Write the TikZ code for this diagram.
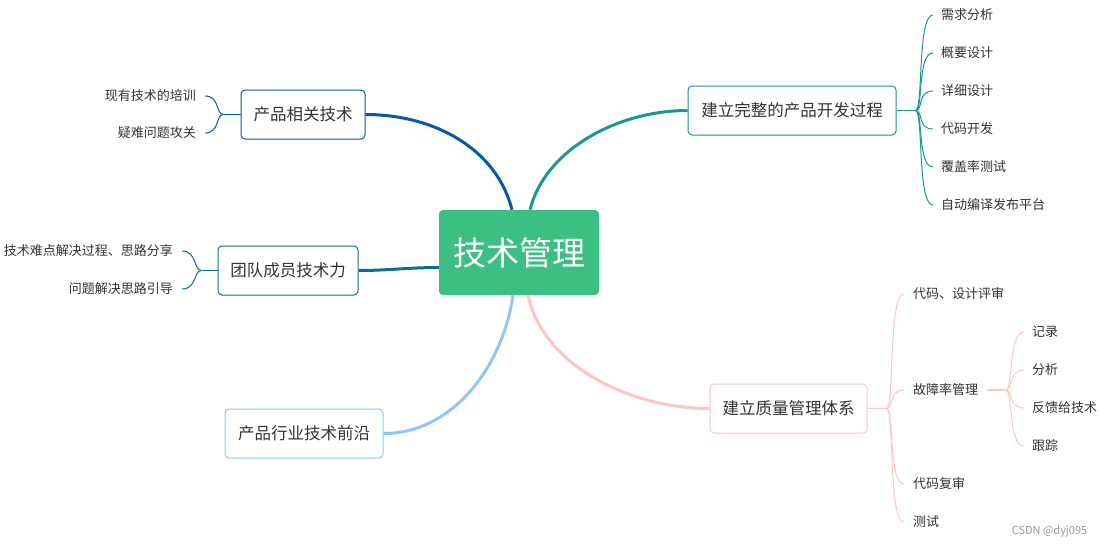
\documentclass[tikz,border=0pt]{standalone}
\usepackage{fontspec}
\setmainfont{Noto Sans CJK SC}
\usetikzlibrary{calc}
\definecolor{prodc}{HTML}{0A57A5}
\definecolor{teamc}{HTML}{0E6F8D}
\definecolor{frontc}{HTML}{8EC7F8}
\definecolor{devc}{HTML}{1A9699}
\definecolor{qualc}{HTML}{FFC5C5}
\definecolor{centc}{HTML}{3BBF82}
\definecolor{txt}{HTML}{333333}
\tikzset{
  topic/.style={draw=#1, fill=white, line width=1pt, rounded corners=4pt, text=txt,
    font=\fontsize{16.5}{19}\selectfont, minimum height=49pt, inner xsep=10pt, inner ysep=0pt},
  leafr/.style={anchor=west, text=txt, font=\fontsize{13}{15}\selectfont, inner xsep=8pt, inner ysep=2pt},
  leafl/.style={anchor=east, text=txt, font=\fontsize{13}{15}\selectfont, inner xsep=9pt, inner ysep=2pt},
  mainline/.style={draw=#1, line width=3pt},
  subline/.style={draw=#1, line width=1pt},
}
\begin{document}
\begin{tikzpicture}[x=1pt,y=-1pt]
\useasboundingbox[fill=white] (0,0) rectangle (1104,547);

% topics
\node[topic=prodc, minimum width=124pt] (prod) at (303,114.5) {产品相关技术};
\node[topic=teamc, minimum width=140pt] (team) at (288,270.5) {团队成员技术力};
\node[topic=frontc, minimum width=158pt] (front) at (304,433.5) {产品行业技术前沿};
\node[topic=devc, minimum width=208pt] (dev) at (792,110.5) {建立完整的产品开发过程};
\node[topic=qualc, minimum width=157pt] (qual) at (788.5,408.5) {建立质量管理体系};

% main branches (behind center)
\node[minimum width=160pt, minimum height=85pt, inner sep=0pt] (cgeo) at (519,252.5) {};
\draw[mainline=prodc] ($(cgeo.north)+(-7,0)$) .. controls +(-15,-60) and +(70,0) .. (prod.east);
\draw[mainline=teamc] ($(cgeo.west)+(0,15)$) .. controls +(-30,0) and +(30,0) .. (team.east);
\draw[mainline=frontc] ($(cgeo.south)+(-6,0)$) .. controls +(-10,70) and +(70,0) .. (front.east);
\draw[mainline=devc] ($(cgeo.north)+(11,0)$) .. controls +(15,-60) and +(-70,0) .. (dev.west);
\draw[mainline=qualc] ($(cgeo.south)+(9,0)$) .. controls +(15,70) and +(-80,0) .. (qual.west);

% center
\node[fill=centc, rounded corners=4pt, minimum width=160pt, minimum height=85pt, inner sep=0pt,
  text=white, font=\fontsize{33}{38}\selectfont] (c) at (519,252.5) {技术管理};

% leaves: prod
\node[leafl] (p1) at (205,96) {现有技术的培训};
\node[leafl] (p2) at (205,133) {疑难问题攻关};
\coordinate (pj) at ($(prod.west)+(-17,0)$);
\draw[subline=prodc] (prod.west) -- (pj);
\foreach \n in {p1,p2} \draw[subline=prodc] (pj) .. controls +(-8,0) and +(15,0) .. (\n.east);

% leaves: team
\node[leafl] (t1) at (182,251) {技术难点解决过程、思路分享};
\node[leafl] (t2) at (182,289) {问题解决思路引导};
\coordinate (tj) at ($(team.west)+(-16,0)$);
\draw[subline=teamc] (team.west) -- (tj);
\foreach \n in {t1,t2} \draw[subline=teamc] (tj) .. controls +(-8,0) and +(15,0) .. (\n.east);

% leaves: dev
\node[leafr] (d1) at (933,15) {需求分析};
\node[leafr] (d2) at (933,53) {概要设计};
\node[leafr] (d3) at (933,91) {详细设计};
\node[leafr] (d4) at (933,129) {代码开发};
\node[leafr] (d5) at (933,167) {覆盖率测试};
\node[leafr] (d6) at (933,205) {自动编译发布平台};
\coordinate (dj) at ($(dev.east)+(19,0)$);
\draw[subline=devc] (dev.east) -- (dj);
\foreach \n in {d1,d2,d3,d4,d5,d6} \draw[subline=devc] (dj) .. controls +(8,0) and +(-16,0) .. (\n.west);

% leaves: quality
\node[leafr, inner xsep=9pt] (q1) at (904,294) {代码、设计评审};
\node[leafr, inner xsep=9pt] (q2) at (904,390) {故障率管理};
\node[leafr, inner xsep=9pt] (q3) at (904,484) {代码复审};
\node[leafr, inner xsep=9pt] (q4) at (904,522) {测试};
\coordinate (qj) at ($(qual.east)+(19,0)$);
\draw[subline=qualc] (qual.east) -- (qj);
\foreach \n in {q1,q2,q3,q4} \draw[subline=qualc] (qj) .. controls +(8,0) and +(-16,0) .. (\n.west);

% leaves: fault
\node[leafr] (f1) at (1024,332) {记录};
\node[leafr] (f2) at (1024,370) {分析};
\node[leafr] (f3) at (1024,408) {反馈给技术};
\node[leafr] (f4) at (1024,446) {跟踪};
\coordinate (fj) at ($(q2.east)+(18,0)$);
\draw[subline=qualc, line width=1.5pt] (q2.east) -- (fj);
\foreach \n in {f1,f2,f3,f4} \draw[subline=qualc] (fj) .. controls +(8,0) and +(-16,0) .. (\n.west);

% watermark
\node[text=black!40, font=\fontsize{11}{13}\selectfont, inner sep=0pt] (wm) at (1049.5,531) {CSDN @dyj095};
\end{tikzpicture}
\end{document}
